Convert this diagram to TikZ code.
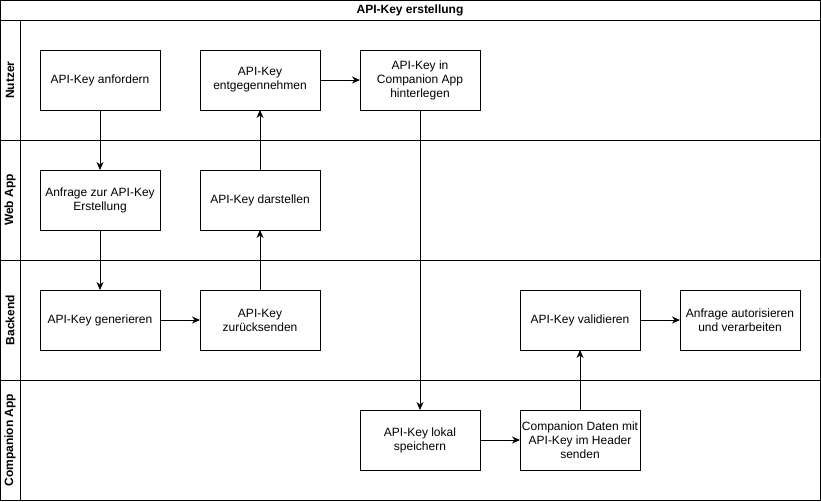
\documentclass[tikz,border=0pt]{standalone}
\usepackage{fontspec}
\setmainfont{Liberation Sans}
\usetikzlibrary{arrows.meta, positioning}
\tikzset{
    >=Stealth,
    font=\fontsize{12}{14}\selectfont,
    node distance=60pt and 40pt,
    lane_step/.style={
        rectangle,
        draw=black,
        line width=1pt,
        minimum width=120pt,
        minimum height=60pt,
        inner sep=0pt,
        outer sep=0pt,
        align=center
    },
    lane_frame/.style={
        draw=black,
        line width=1pt
    },
    lane_title/.style={
        font=\bfseries\fontsize{12}{14}\selectfont
    },
    lane_label/.style={
        rotate=90,
        font=\bfseries\fontsize{12}{14}\selectfont
    },
    lane_arrow/.style={
        -{Stealth[length=8pt, width=7pt]},
        line width=1pt
    }
}

\begin{document}
\begin{tikzpicture}[x=1pt, y=-1pt]
\useasboundingbox (0,0) rectangle (821,501);

% --- Pool and lanes ---
\draw[lane_frame] (0.5,0.5) rectangle (820,500);
\draw[lane_frame] (0.5,20) -- (820,20);
\draw[lane_frame] (20,20) -- (20,500);
\foreach \y in {140,260,380}
    \draw[lane_frame] (0.5,\y) -- (820,\y);

\node[lane_title] (Title) at (410,10) {API-Key erstellung};
\node[lane_label] (LaneUser) at (10,80) {Nutzer};
\node[lane_label] (LaneWeb) at (10,200) {Web App};
\node[lane_label] (LaneBackend) at (10,320) {Backend};
\node[lane_label] (LaneCompanion) at (10,440) {Companion App};

% --- Nutzer ---
\node[lane_step] (Request) at (100,80) {API-Key anfordern};
\node[lane_step, right=of Request] (Receive) {API-Key\\entgegennehmen};
\node[lane_step, right=of Receive] (Store) {API-Key in\\Companion App\\hinterlegen};

% --- Web App ---
\node[lane_step, below=of Request] (WebRequest) {Anfrage zur API-Key\\Erstellung};
\node[lane_step, right=of WebRequest] (Show) {API-Key darstellen};

% --- Backend ---
\node[lane_step, below=of WebRequest] (Generate) {API-Key generieren};
\node[lane_step, right=of Generate] (SendBack) {API-Key\\zurücksenden};
\node[lane_step] (Validate) at (580,320) {API-Key validieren};
\node[lane_step, right=of Validate] (Authorize) {Anfrage autorisieren\\und verarbeiten};

% --- Companion App ---
\node[lane_step] (SaveLocal) at (420,440) {API-Key lokal\\speichern};
\node[lane_step, right=of SaveLocal] (SendData) {Companion Daten mit\\API-Key im Header\\senden};

% --- Edges ---
\draw[lane_arrow] (Request) -- (WebRequest);
\draw[lane_arrow] (WebRequest) -- (Generate);
\draw[lane_arrow] (Generate) -- (SendBack);
\draw[lane_arrow] (SendBack) -- (Show);
\draw[lane_arrow] (Show) -- (Receive);
\draw[lane_arrow] (Receive) -- (Store);
\draw[lane_arrow] (Store) -- (SaveLocal);
\draw[lane_arrow] (SaveLocal) -- (SendData);
\draw[lane_arrow] (SendData) -- (Validate);
\draw[lane_arrow] (Validate) -- (Authorize);

\end{tikzpicture}
\end{document}
